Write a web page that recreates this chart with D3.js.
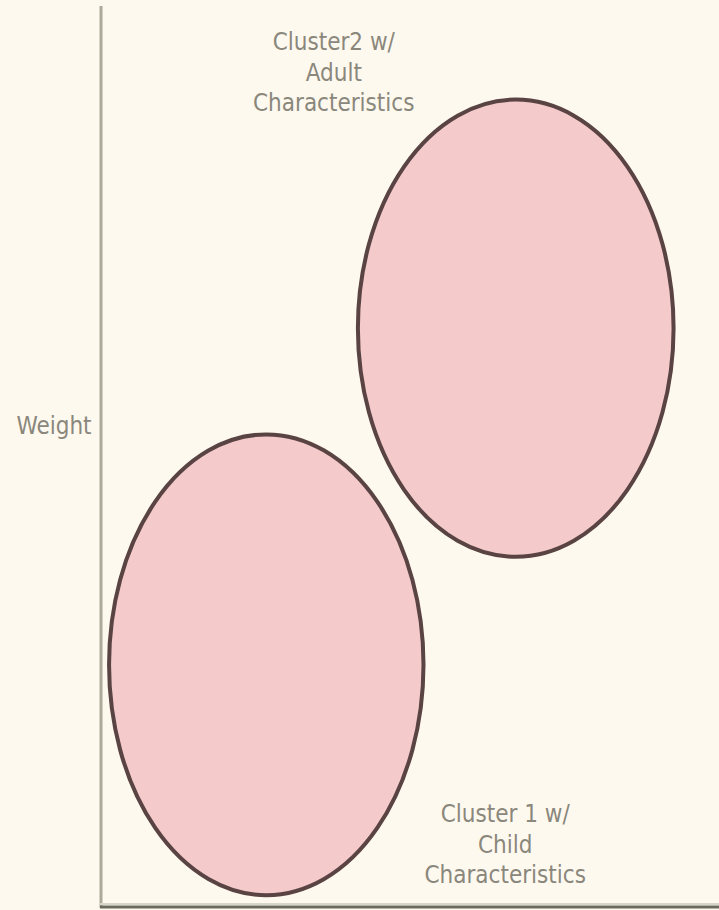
<!DOCTYPE html>
<html>
<head>
<meta charset="utf-8">
<script src="https://cdn.jsdelivr.net/npm/d3@7"></script>
<style>
  body { margin: 0; background: #fef9ee; }
  svg { display: block; }
</style>
</head>
<body>
<div id="chart"></div>
<script>
// Cluster data (height / weight units, 0-10 scale)
var clusterNames = ['Cluster 1', 'Cluster2'];
var clusterCenterX = [2.67, 6.70];
var clusterCenterY = [2.68, 6.42];
var clusterSpreadX = [2.54, 2.55];
var clusterSpreadY = [2.56, 2.54];
var clusterLabels = [
    ['Cluster 1 w/', 'Child', 'Characteristics'],
    ['Cluster2 w/', 'Adult', 'Characteristics']
];
var labelX = [6.53, 3.76];
var labelY = [0.93, 9.51];
var yLabel = 'Weight';

(function() {
    var width = 719, height = 910;

    var svg = d3.select('#chart').append('svg')
        .attr('width', width)
        .attr('height', height);

    svg.append('rect')
        .attr('width', width).attr('height', height)
        .attr('fill', '#fef9ee');

    // Settings
    var plot_left = 101, plot_bottom = 906, plot_top = 6;
    var font = '"DejaVu Sans Condensed", "Liberation Sans Narrow", sans-serif';

    var x = d3.scaleLinear().domain([0, 10]).range([plot_left, plot_left + 619]);
    var y = d3.scaleLinear().domain([0, 10]).range([plot_bottom, plot_top]);

    // Clusters
    clusterNames.forEach(function(name, i) {
        svg.append('ellipse')
            .attr('cx', x(clusterCenterX[i]))
            .attr('cy', y(clusterCenterY[i]))
            .attr('rx', x(clusterSpreadX[i]) - x(0))
            .attr('ry', y(0) - y(clusterSpreadY[i]))
            .attr('fill', '#f4caca')
            .attr('stroke', '#594343')
            .attr('stroke-width', 4);

        var text = svg.append('text')
            .attr('x', x(labelX[i]))
            .attr('y', y(labelY[i]))
            .attr('text-anchor', 'middle')
            .style('font-family', font)
            .style('font-size', '24px')
            .style('fill', '#8a877c');

        clusterLabels[i].forEach(function(line, j) {
            text.append('tspan')
                .attr('x', x(labelX[i]))
                .attr('dy', j === 0 ? 0 : 30.5)
                .text(line);
        });
    });

    // Axes
    svg.append('line')
        .attr('x1', plot_left).attr('x2', plot_left)
        .attr('y1', plot_top).attr('y2', plot_bottom + 2)
        .style('stroke', '#aca99b')
        .style('stroke-width', 3);

    svg.append('line')
        .attr('x1', plot_left - 1).attr('x2', width)
        .attr('y1', plot_bottom - 2).attr('y2', plot_bottom - 2)
        .style('stroke', '#d8d6c8')
        .style('stroke-width', 2);

    svg.append('line')
        .attr('x1', plot_left - 1).attr('x2', width)
        .attr('y1', plot_bottom + 1).attr('y2', plot_bottom + 1)
        .style('stroke', '#6a6a5e')
        .style('stroke-width', 3);

    svg.append('text')
        .attr('x', 54).attr('y', y(5.24))
        .attr('text-anchor', 'middle')
        .style('font-family', font)
        .style('font-size', '24px')
        .style('fill', '#8a877c')
        .text(yLabel);
}());
</script>
</body>
</html>
